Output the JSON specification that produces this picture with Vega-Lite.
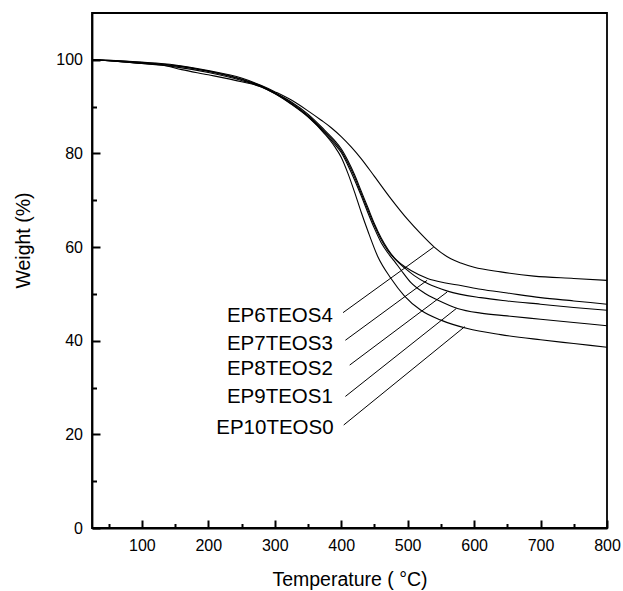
{
  "$schema": "https://vega.github.io/schema/vega-lite/v6.json",
  "width": 515,
  "height": 515,
  "autosize": "none",
  "padding": {"left": 92, "top": 13, "right": 16, "bottom": 63},
  "config": {
    "view": {"stroke": "black", "strokeWidth": 1.8},
    "font": "Liberation Sans",
    "axis": {
      "grid": false,
      "domainColor": "black",
      "domainWidth": 1.8,
      "ticks": true,
      "tickColor": "black",
      "tickWidth": 2,
      "labelColor": "black",
      "labelFont": "Liberation Sans",
      "labelFontSize": 16,
      "labelFlush": false,
      "labelOverlap": false,
      "titleColor": "black",
      "titleFont": "Liberation Sans",
      "titleFontSize": 19.5,
      "titleFontWeight": "normal"
    }
  },
  "datasets": {
    "curves": [
      {"s": "EP6TEOS4", "t": 25, "w": 100}, {"s": "EP6TEOS4", "t": 50, "w": 99.9}, {"s": "EP6TEOS4", "t": 100, "w": 99.5}, {"s": "EP6TEOS4", "t": 150, "w": 98.9}, {"s": "EP6TEOS4", "t": 200, "w": 97.7}, {"s": "EP6TEOS4", "t": 250, "w": 96.1}, {"s": "EP6TEOS4", "t": 280, "w": 94.5}, {"s": "EP6TEOS4", "t": 300, "w": 93.2}, {"s": "EP6TEOS4", "t": 325, "w": 91.4}, {"s": "EP6TEOS4", "t": 350, "w": 89.1}, {"s": "EP6TEOS4", "t": 370, "w": 87.1}, {"s": "EP6TEOS4", "t": 385, "w": 85.5}, {"s": "EP6TEOS4", "t": 400, "w": 83.6}, {"s": "EP6TEOS4", "t": 415, "w": 81.4}, {"s": "EP6TEOS4", "t": 430, "w": 78.9}, {"s": "EP6TEOS4", "t": 450, "w": 75.1}, {"s": "EP6TEOS4", "t": 475, "w": 70.3}, {"s": "EP6TEOS4", "t": 500, "w": 65.9}, {"s": "EP6TEOS4", "t": 520, "w": 62.8}, {"s": "EP6TEOS4", "t": 540, "w": 60.0}, {"s": "EP6TEOS4", "t": 565, "w": 57.5}, {"s": "EP6TEOS4", "t": 580, "w": 56.6}, {"s": "EP6TEOS4", "t": 600, "w": 55.7}, {"s": "EP6TEOS4", "t": 640, "w": 54.7}, {"s": "EP6TEOS4", "t": 690, "w": 53.8}, {"s": "EP6TEOS4", "t": 750, "w": 53.3}, {"s": "EP6TEOS4", "t": 800, "w": 52.9},
      {"s": "EP7TEOS3", "t": 25, "w": 100}, {"s": "EP7TEOS3", "t": 50, "w": 99.9}, {"s": "EP7TEOS3", "t": 100, "w": 99.4}, {"s": "EP7TEOS3", "t": 150, "w": 98.8}, {"s": "EP7TEOS3", "t": 200, "w": 97.6}, {"s": "EP7TEOS3", "t": 250, "w": 95.9}, {"s": "EP7TEOS3", "t": 280, "w": 94.4}, {"s": "EP7TEOS3", "t": 300, "w": 93.0}, {"s": "EP7TEOS3", "t": 325, "w": 91.0}, {"s": "EP7TEOS3", "t": 350, "w": 88.4}, {"s": "EP7TEOS3", "t": 375, "w": 85.0}, {"s": "EP7TEOS3", "t": 390, "w": 82.8}, {"s": "EP7TEOS3", "t": 400, "w": 81.0}, {"s": "EP7TEOS3", "t": 410, "w": 78.5}, {"s": "EP7TEOS3", "t": 420, "w": 75.5}, {"s": "EP7TEOS3", "t": 430, "w": 72.0}, {"s": "EP7TEOS3", "t": 440, "w": 68.5}, {"s": "EP7TEOS3", "t": 450, "w": 65.0}, {"s": "EP7TEOS3", "t": 460, "w": 62.0}, {"s": "EP7TEOS3", "t": 470, "w": 59.6}, {"s": "EP7TEOS3", "t": 480, "w": 57.7}, {"s": "EP7TEOS3", "t": 490, "w": 56.4}, {"s": "EP7TEOS3", "t": 505, "w": 55.0}, {"s": "EP7TEOS3", "t": 530, "w": 53.3}, {"s": "EP7TEOS3", "t": 555, "w": 52.4}, {"s": "EP7TEOS3", "t": 580, "w": 51.8}, {"s": "EP7TEOS3", "t": 610, "w": 51.0}, {"s": "EP7TEOS3", "t": 650, "w": 50.2}, {"s": "EP7TEOS3", "t": 700, "w": 49.2}, {"s": "EP7TEOS3", "t": 750, "w": 48.5}, {"s": "EP7TEOS3", "t": 800, "w": 47.8},
      {"s": "EP8TEOS2", "t": 25, "w": 100}, {"s": "EP8TEOS2", "t": 50, "w": 99.8}, {"s": "EP8TEOS2", "t": 100, "w": 99.3}, {"s": "EP8TEOS2", "t": 150, "w": 98.7}, {"s": "EP8TEOS2", "t": 200, "w": 97.5}, {"s": "EP8TEOS2", "t": 250, "w": 95.8}, {"s": "EP8TEOS2", "t": 280, "w": 94.3}, {"s": "EP8TEOS2", "t": 300, "w": 92.9}, {"s": "EP8TEOS2", "t": 325, "w": 90.8}, {"s": "EP8TEOS2", "t": 350, "w": 88.1}, {"s": "EP8TEOS2", "t": 375, "w": 84.7}, {"s": "EP8TEOS2", "t": 390, "w": 82.4}, {"s": "EP8TEOS2", "t": 400, "w": 80.6}, {"s": "EP8TEOS2", "t": 410, "w": 78.0}, {"s": "EP8TEOS2", "t": 420, "w": 75.0}, {"s": "EP8TEOS2", "t": 430, "w": 71.5}, {"s": "EP8TEOS2", "t": 440, "w": 68.0}, {"s": "EP8TEOS2", "t": 450, "w": 64.6}, {"s": "EP8TEOS2", "t": 460, "w": 61.6}, {"s": "EP8TEOS2", "t": 470, "w": 59.3}, {"s": "EP8TEOS2", "t": 480, "w": 57.6}, {"s": "EP8TEOS2", "t": 495, "w": 55.6}, {"s": "EP8TEOS2", "t": 510, "w": 53.9}, {"s": "EP8TEOS2", "t": 530, "w": 52.2}, {"s": "EP8TEOS2", "t": 560, "w": 50.6}, {"s": "EP8TEOS2", "t": 610, "w": 49.2}, {"s": "EP8TEOS2", "t": 650, "w": 48.5}, {"s": "EP8TEOS2", "t": 700, "w": 47.8}, {"s": "EP8TEOS2", "t": 750, "w": 47.1}, {"s": "EP8TEOS2", "t": 800, "w": 46.5},
      {"s": "EP9TEOS1", "t": 25, "w": 100}, {"s": "EP9TEOS1", "t": 50, "w": 99.8}, {"s": "EP9TEOS1", "t": 100, "w": 99.2}, {"s": "EP9TEOS1", "t": 150, "w": 98.5}, {"s": "EP9TEOS1", "t": 200, "w": 97.3}, {"s": "EP9TEOS1", "t": 250, "w": 95.6}, {"s": "EP9TEOS1", "t": 280, "w": 94.2}, {"s": "EP9TEOS1", "t": 300, "w": 92.8}, {"s": "EP9TEOS1", "t": 325, "w": 90.6}, {"s": "EP9TEOS1", "t": 350, "w": 87.9}, {"s": "EP9TEOS1", "t": 375, "w": 84.4}, {"s": "EP9TEOS1", "t": 390, "w": 82.0}, {"s": "EP9TEOS1", "t": 400, "w": 80.2}, {"s": "EP9TEOS1", "t": 410, "w": 77.5}, {"s": "EP9TEOS1", "t": 420, "w": 74.4}, {"s": "EP9TEOS1", "t": 430, "w": 71.0}, {"s": "EP9TEOS1", "t": 440, "w": 67.4}, {"s": "EP9TEOS1", "t": 450, "w": 64.0}, {"s": "EP9TEOS1", "t": 460, "w": 61.0}, {"s": "EP9TEOS1", "t": 470, "w": 58.8}, {"s": "EP9TEOS1", "t": 480, "w": 57.0}, {"s": "EP9TEOS1", "t": 490, "w": 55.1}, {"s": "EP9TEOS1", "t": 505, "w": 52.4}, {"s": "EP9TEOS1", "t": 525, "w": 50.2}, {"s": "EP9TEOS1", "t": 545, "w": 48.7}, {"s": "EP9TEOS1", "t": 575, "w": 46.9}, {"s": "EP9TEOS1", "t": 610, "w": 45.9}, {"s": "EP9TEOS1", "t": 650, "w": 45.3}, {"s": "EP9TEOS1", "t": 700, "w": 44.6}, {"s": "EP9TEOS1", "t": 750, "w": 43.9}, {"s": "EP9TEOS1", "t": 800, "w": 43.2},
      {"s": "EP10TEOS0", "t": 25, "w": 100}, {"s": "EP10TEOS0", "t": 50, "w": 99.8}, {"s": "EP10TEOS0", "t": 100, "w": 99.2}, {"s": "EP10TEOS0", "t": 130, "w": 98.9}, {"s": "EP10TEOS0", "t": 160, "w": 97.9}, {"s": "EP10TEOS0", "t": 200, "w": 96.8}, {"s": "EP10TEOS0", "t": 250, "w": 95.3}, {"s": "EP10TEOS0", "t": 280, "w": 94.2}, {"s": "EP10TEOS0", "t": 300, "w": 92.8}, {"s": "EP10TEOS0", "t": 325, "w": 90.5}, {"s": "EP10TEOS0", "t": 350, "w": 87.8}, {"s": "EP10TEOS0", "t": 375, "w": 84.2}, {"s": "EP10TEOS0", "t": 390, "w": 81.5}, {"s": "EP10TEOS0", "t": 400, "w": 79.2}, {"s": "EP10TEOS0", "t": 410, "w": 75.8}, {"s": "EP10TEOS0", "t": 420, "w": 71.8}, {"s": "EP10TEOS0", "t": 430, "w": 67.5}, {"s": "EP10TEOS0", "t": 440, "w": 63.5}, {"s": "EP10TEOS0", "t": 455, "w": 58.0}, {"s": "EP10TEOS0", "t": 475, "w": 53.3}, {"s": "EP10TEOS0", "t": 495, "w": 49.6}, {"s": "EP10TEOS0", "t": 520, "w": 46.5}, {"s": "EP10TEOS0", "t": 550, "w": 44.4}, {"s": "EP10TEOS0", "t": 590, "w": 42.6}, {"s": "EP10TEOS0", "t": 640, "w": 41.3}, {"s": "EP10TEOS0", "t": 700, "w": 40.2}, {"s": "EP10TEOS0", "t": 750, "w": 39.4}, {"s": "EP10TEOS0", "t": 800, "w": 38.6}
    ],
    "leaders": [
      {"s": "EP6TEOS4", "t": 402.8, "w": 46.0}, {"s": "EP6TEOS4", "t": 539.2, "w": 60.0},
      {"s": "EP7TEOS3", "t": 406.3, "w": 40.1}, {"s": "EP7TEOS3", "t": 529.3, "w": 52.9},
      {"s": "EP8TEOS2", "t": 412.8, "w": 34.8}, {"s": "EP8TEOS2", "t": 559.4, "w": 50.4},
      {"s": "EP9TEOS1", "t": 406.3, "w": 28.1}, {"s": "EP9TEOS1", "t": 573.4, "w": 46.9},
      {"s": "EP10TEOS0", "t": 403.8, "w": 22.0}, {"s": "EP10TEOS0", "t": 585.9, "w": 43.0}
    ],
    "labels": [
      {"s": "EP6TEOS4", "t": 228, "w": 45.2},
      {"s": "EP7TEOS3", "t": 228, "w": 39.3},
      {"s": "EP8TEOS2", "t": 228, "w": 33.9},
      {"s": "EP9TEOS1", "t": 228, "w": 28.0},
      {"s": "EP10TEOS0", "t": 212, "w": 21.4}
    ]
  },
  "layer": [
    {
      "data": {"name": "curves"},
      "mark": {"type": "line", "color": "black", "strokeWidth": 1.1, "interpolate": "monotone"},
      "encoding": {
        "x": {
          "field": "t", "type": "quantitative",
          "scale": {"domain": [25, 800], "nice": false, "zero": false},
          "axis": {"orient": "bottom", "values": [100, 200, 300, 400, 500, 600, 700, 800], "tickSize": -8, "labelPadding": 17, "title": "Temperature ( °C)", "titlePadding": 17, "zindex": 2}
        },
        "y": {
          "field": "w", "type": "quantitative",
          "scale": {"domain": [0, 110], "nice": false, "zero": true},
          "axis": {"orient": "left", "values": [0, 20, 40, 60, 80, 100], "tickSize": -8, "labelPadding": 17.5, "title": "Weight (%)", "titlePadding": 22, "titleY": 227, "zindex": 2}
        },
        "detail": {"field": "s"}
      }
    },
    {
      "data": {"name": "leaders"},
      "mark": {"type": "line", "color": "black", "strokeWidth": 1},
      "encoding": {
        "x": {
          "field": "t", "type": "quantitative",
          "axis": {"orient": "bottom", "offset": -4.5, "values": [50, 150, 250, 350, 450, 550, 650, 750], "tickSize": 4.5, "labels": false, "domain": false, "title": null, "zindex": 2}
        },
        "y": {
          "field": "w", "type": "quantitative",
          "axis": {"orient": "left", "offset": -4.5, "values": [10, 30, 50, 70, 90], "tickSize": 4.5, "labels": false, "domain": false, "title": null, "zindex": 2}
        },
        "detail": {"field": "s"}
      }
    },
    {
      "data": {"name": "labels"},
      "mark": {"type": "text", "align": "left", "baseline": "middle", "fontSize": 20.5, "font": "Liberation Sans", "color": "black"},
      "encoding": {
        "x": {"field": "t", "type": "quantitative", "axis": null},
        "y": {"field": "w", "type": "quantitative", "axis": null},
        "text": {"field": "s"}
      }
    }
  ],
  "resolve": {"axis": {"x": "independent", "y": "independent"}}
}
